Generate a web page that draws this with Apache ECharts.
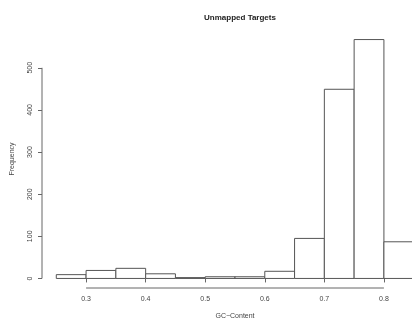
<!DOCTYPE html>
<html>
<head>
<meta charset="utf-8">
<script src="https://cdn.jsdelivr.net/npm/echarts@6/dist/echarts.min.js"></script>
<style>
  html, body { margin: 0; padding: 0; background: #fff; }
  #chart { width: 412px; height: 323px; }
</style>
</head>
<body>
<div id="chart"></div>
<script>
// Histogram of GC content for unmapped targets (bin width 0.05)
const binEdges = [0.25, 0.30, 0.35, 0.40, 0.45, 0.50, 0.55, 0.60, 0.65, 0.70, 0.75, 0.80, 0.85];
const counts   = [9, 19, 24, 11, 2, 4, 4, 17, 95, 449, 567, 87];
const xTicks = [0.3, 0.4, 0.5, 0.6, 0.7, 0.8];
const yTicks = [0, 100, 200, 300, 400, 500];

// R-style 4% range extension on both axes
const xLo = binEdges[0], xHi = binEdges[binEdges.length - 1];
const xPad = (xHi - xLo) * 0.04;
const xMin = xLo - xPad, xMax = xHi + xPad;
const yTop = Math.max(...counts);
const yPad = yTop * 0.04;
const yMin = -yPad, yMax = yTop + yPad;

const bins = counts.map((c, i) => [binEdges[i], binEdges[i + 1], c]);

const font = 'Liberation Sans, Arial, Helvetica, sans-serif';
const ink = '#444';

const chart = echarts.init(document.getElementById('chart'), null, { renderer: 'canvas' });
chart.setOption({
  animation: false,
  backgroundColor: '#fff',
  title: {
    text: 'Unmapped Targets',
    left: 235,
    textAlign: 'center',
    top: 9,
    textStyle: { fontFamily: font, fontSize: 8, fontWeight: 'bold', color: '#222' }
  },
  // plotting region runs past the right edge of the page
  grid: { left: 42, top: 30, width: 386, height: 258, containLabel: false, outerBoundsMode: 'none' },
  xAxis: {
    type: 'value',
    min: xMin, max: xMax,
    name: 'GC\u2212Content',
    nameLocation: 'middle',
    nameGap: 25,
    nameTextStyle: { fontFamily: font, fontSize: 7, color: ink },
    axisLine: { show: false },
    splitLine: { show: false },
    axisTick: { show: true, inside: false, length: 4, customValues: xTicks,
                lineStyle: { color: '#666', width: 1 } },
    axisLabel: { show: true, customValues: xTicks, margin: 8,
                 fontFamily: font, fontSize: 7, color: ink,
                 formatter: v => v.toFixed(1) }
  },
  yAxis: {
    type: 'value',
    min: yMin, max: yMax,
    name: 'Frequency',
    nameLocation: 'middle',
    nameGap: 26,
    nameRotate: 90,
    nameTextStyle: { fontFamily: font, fontSize: 7, color: ink },
    axisLine: { show: false },
    splitLine: { show: false },
    axisTick: { show: true, inside: false, length: 4, customValues: yTicks,
                lineStyle: { color: '#666', width: 1 } },
    axisLabel: { show: true, customValues: yTicks, margin: 8, rotate: 90,
                 fontFamily: font, fontSize: 7, color: ink }
  },
  series: [
    {
      // histogram bins drawn as outlined rectangles
      type: 'custom',
      data: bins,
      clip: false,
      renderItem: function (params, api) {
        const p0 = api.coord([api.value(0), api.value(2)]);
        const p1 = api.coord([api.value(1), 0]);
        return {
          type: 'rect',
          shape: { x: p0[0], y: p0[1], width: p1[0] - p0[0], height: p1[1] - p0[1] },
          style: { fill: '#fff', stroke: '#555', lineWidth: 1 }
        };
      }
    },
    {
      // x axis line spanning first to last tick
      type: 'line',
      data: [[xTicks[0], yMin], [xTicks[xTicks.length - 1], yMin]],
      symbol: 'none', silent: true, clip: false,
      lineStyle: { color: '#666', width: 1 }
    },
    {
      // y axis line spanning first to last tick
      type: 'line',
      data: [[xMin, yTicks[0]], [xMin, yTicks[yTicks.length - 1]]],
      symbol: 'none', silent: true, clip: false,
      lineStyle: { color: '#666', width: 1 }
    }
  ]
});
</script>
</body>
</html>
